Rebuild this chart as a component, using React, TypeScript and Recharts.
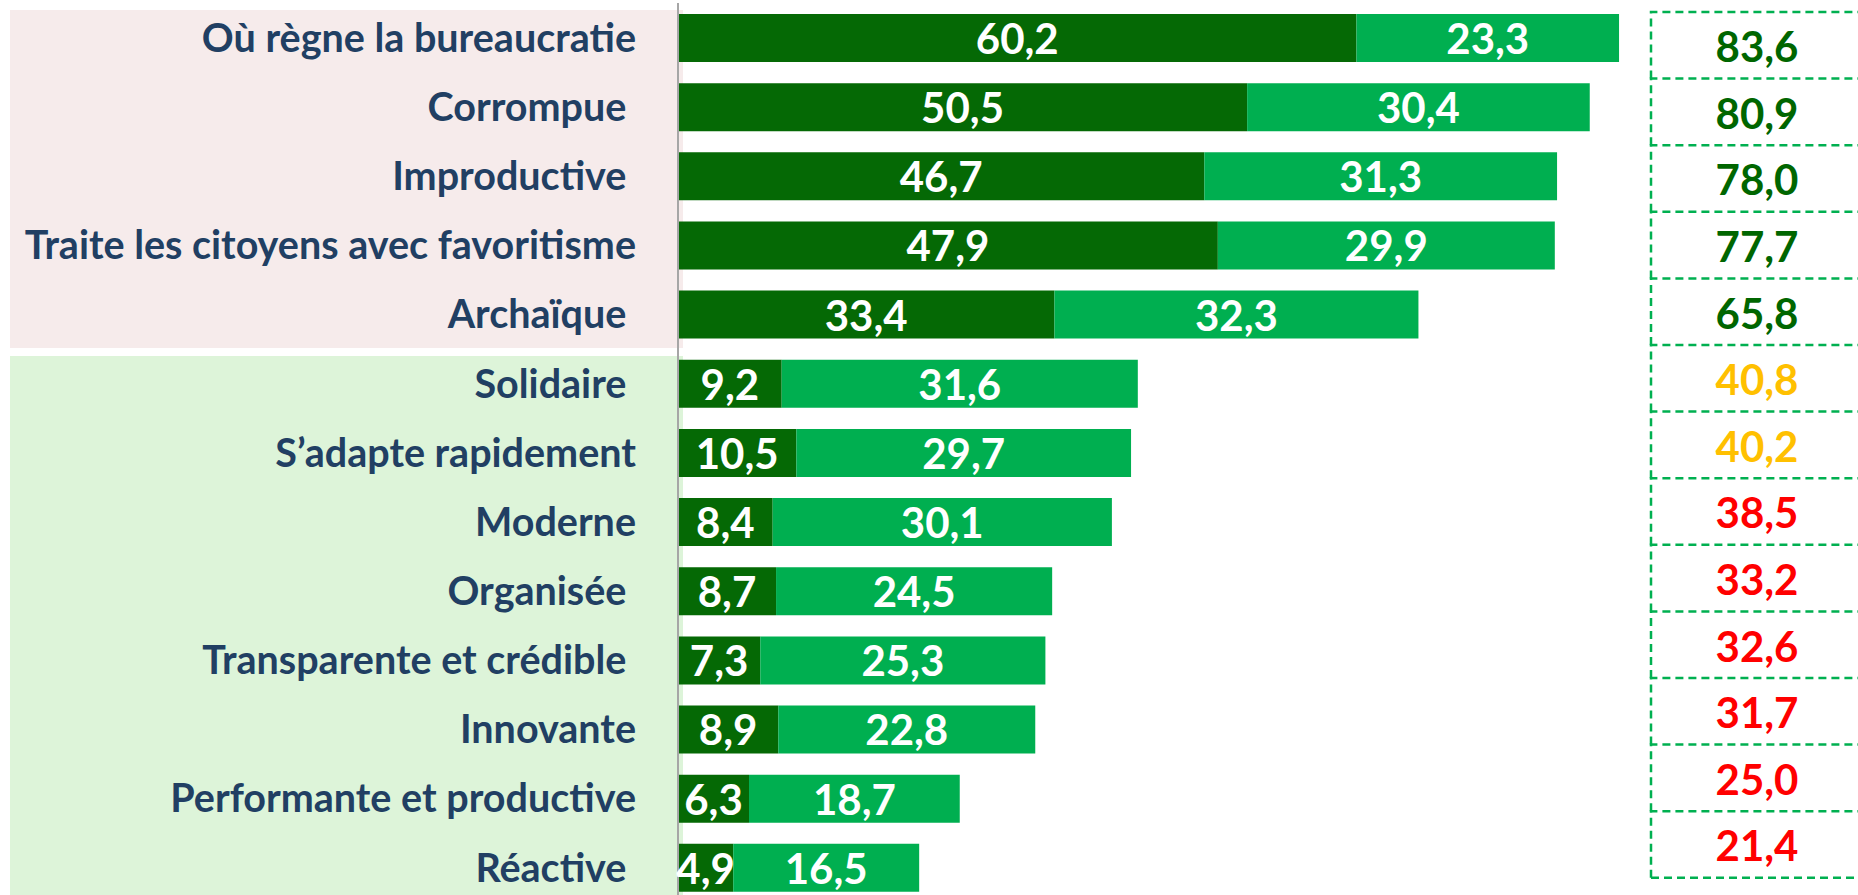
import { BarChart, Bar, XAxis, YAxis, LabelList } from "recharts";

const categories = [
  "Où règne la bureaucratie",
  "Corrompue ",
  "Improductive ",
  "Traite les citoyens avec favoritisme",
  "Archaïque ",
  "Solidaire ",
  "S’adapte rapidement",
  "Moderne",
  "Organisée ",
  "Transparente et crédible ",
  "Innovante",
  "Performante et productive",
  "Réactive ",
];
const dark = [60.2, 50.5, 46.7, 47.9, 33.4, 9.2, 10.5, 8.4, 8.7, 7.3, 8.9, 6.3, 4.9];
const light = [23.3, 30.4, 31.3, 29.9, 32.3, 31.6, 29.7, 30.1, 24.5, 25.3, 22.8, 18.7, 16.5];
const totals = [83.6, 80.9, 78.0, 77.7, 65.8, 40.8, 40.2, 38.5, 33.2, 32.6, 31.7, 25.0, 21.4];

const rows = categories.map((name, i) => ({ name, dark: dark[i], light: light[i] }));

const FONT = "Lato, 'Open Sans', sans-serif";
const fmt = (v: number) => v.toFixed(1).replace(".", ",");
const totalColor = (v: number) => (v >= 60 ? "#006600" : v >= 40 ? "#FFC000" : "#FF0000");

function CategoryTick({ x, y, payload }: any) {
  return (
    <text
      x={x - 42}
      y={y}
      dy="0.36em"
      textAnchor="end"
      fill="#213F63"
      fontFamily={FONT}
      fontWeight={700}
      fontSize={39.5}
      style={{ whiteSpace: "pre" }}
    >
      {payload.value}
    </text>
  );
}

function ValueLabel({ x, y, width, height, value }: any) {
  return (
    <text
      x={x + width / 2}
      y={y + height / 2}
      dy="0.38em"
      textAnchor="middle"
      fill="#ffffff"
      fontFamily={FONT}
      fontWeight={700}
      fontSize={42}
    >
      {fmt(value)}
    </text>
  );
}

// totals column on the right (own row pitch, not tied to the bar bands)
function TotalsBox() {
  const left = 1651;
  const top = 12;
  const h = 66.6;
  const right = 1880;
  const dash = { stroke: "#00B050", strokeWidth: 2.5, strokeDasharray: "8 5", fill: "none" };
  return (
    <svg width={1858} height={895} style={{ position: "absolute", left: 0, top: 0 }}>
      {totals.map((v, i) => {
        const t = top + i * h;
        return (
          <g key={i}>
            <path d={`M ${left} ${t + h} L ${left} ${t} L ${right} ${t}`} {...dash} />
            <text
              x={1757}
              y={t + h / 2}
              dy="0.4em"
              textAnchor="middle"
              fill={totalColor(v)}
              fontFamily={FONT}
              fontWeight={700}
              fontSize={42}
            >
              {fmt(v)}
            </text>
          </g>
        );
      })}
      <path d={`M ${left} ${top + totals.length * h} L ${right} ${top + totals.length * h}`} {...dash} />
    </svg>
  );
}

export default function App() {
  return (
    <div style={{ position: "fixed", left: 0, top: 0, width: 1858, height: 895, overflow: "hidden", background: "#fff" }}>
      {/* group backgrounds behind the labels */}
      <div style={{ position: "absolute", left: 10, top: 10, width: 673, height: 338, background: "#F6EBEB" }} />
      <div style={{ position: "absolute", left: 10, top: 356, width: 673, height: 560, background: "#DDF4D9" }} />
      <div style={{ position: "absolute", left: 0, top: 0 }}>
        <BarChart
          width={1858}
          height={905}
          data={rows}
          layout="vertical"
          margin={{ top: 3, right: 53, bottom: 3, left: 0 }}
          barSize={48}
        >
          <XAxis type="number" domain={[0, 100]} hide />
          <YAxis
            type="category"
            dataKey="name"
            width={678}
            axisLine={{ stroke: "#A6A6A6", strokeWidth: 2 }}
            tickLine={false}
            tickSize={0}
            tickMargin={0}
            interval={0}
            tick={<CategoryTick />}
          />
          <Bar dataKey="dark" stackId="s" fill="#056905" isAnimationActive={false}>
            <LabelList dataKey="dark" content={<ValueLabel />} />
          </Bar>
          <Bar dataKey="light" stackId="s" fill="#00AF50" isAnimationActive={false}>
            <LabelList dataKey="light" content={<ValueLabel />} />
          </Bar>
        </BarChart>
      </div>
      <TotalsBox />
    </div>
  );
}
